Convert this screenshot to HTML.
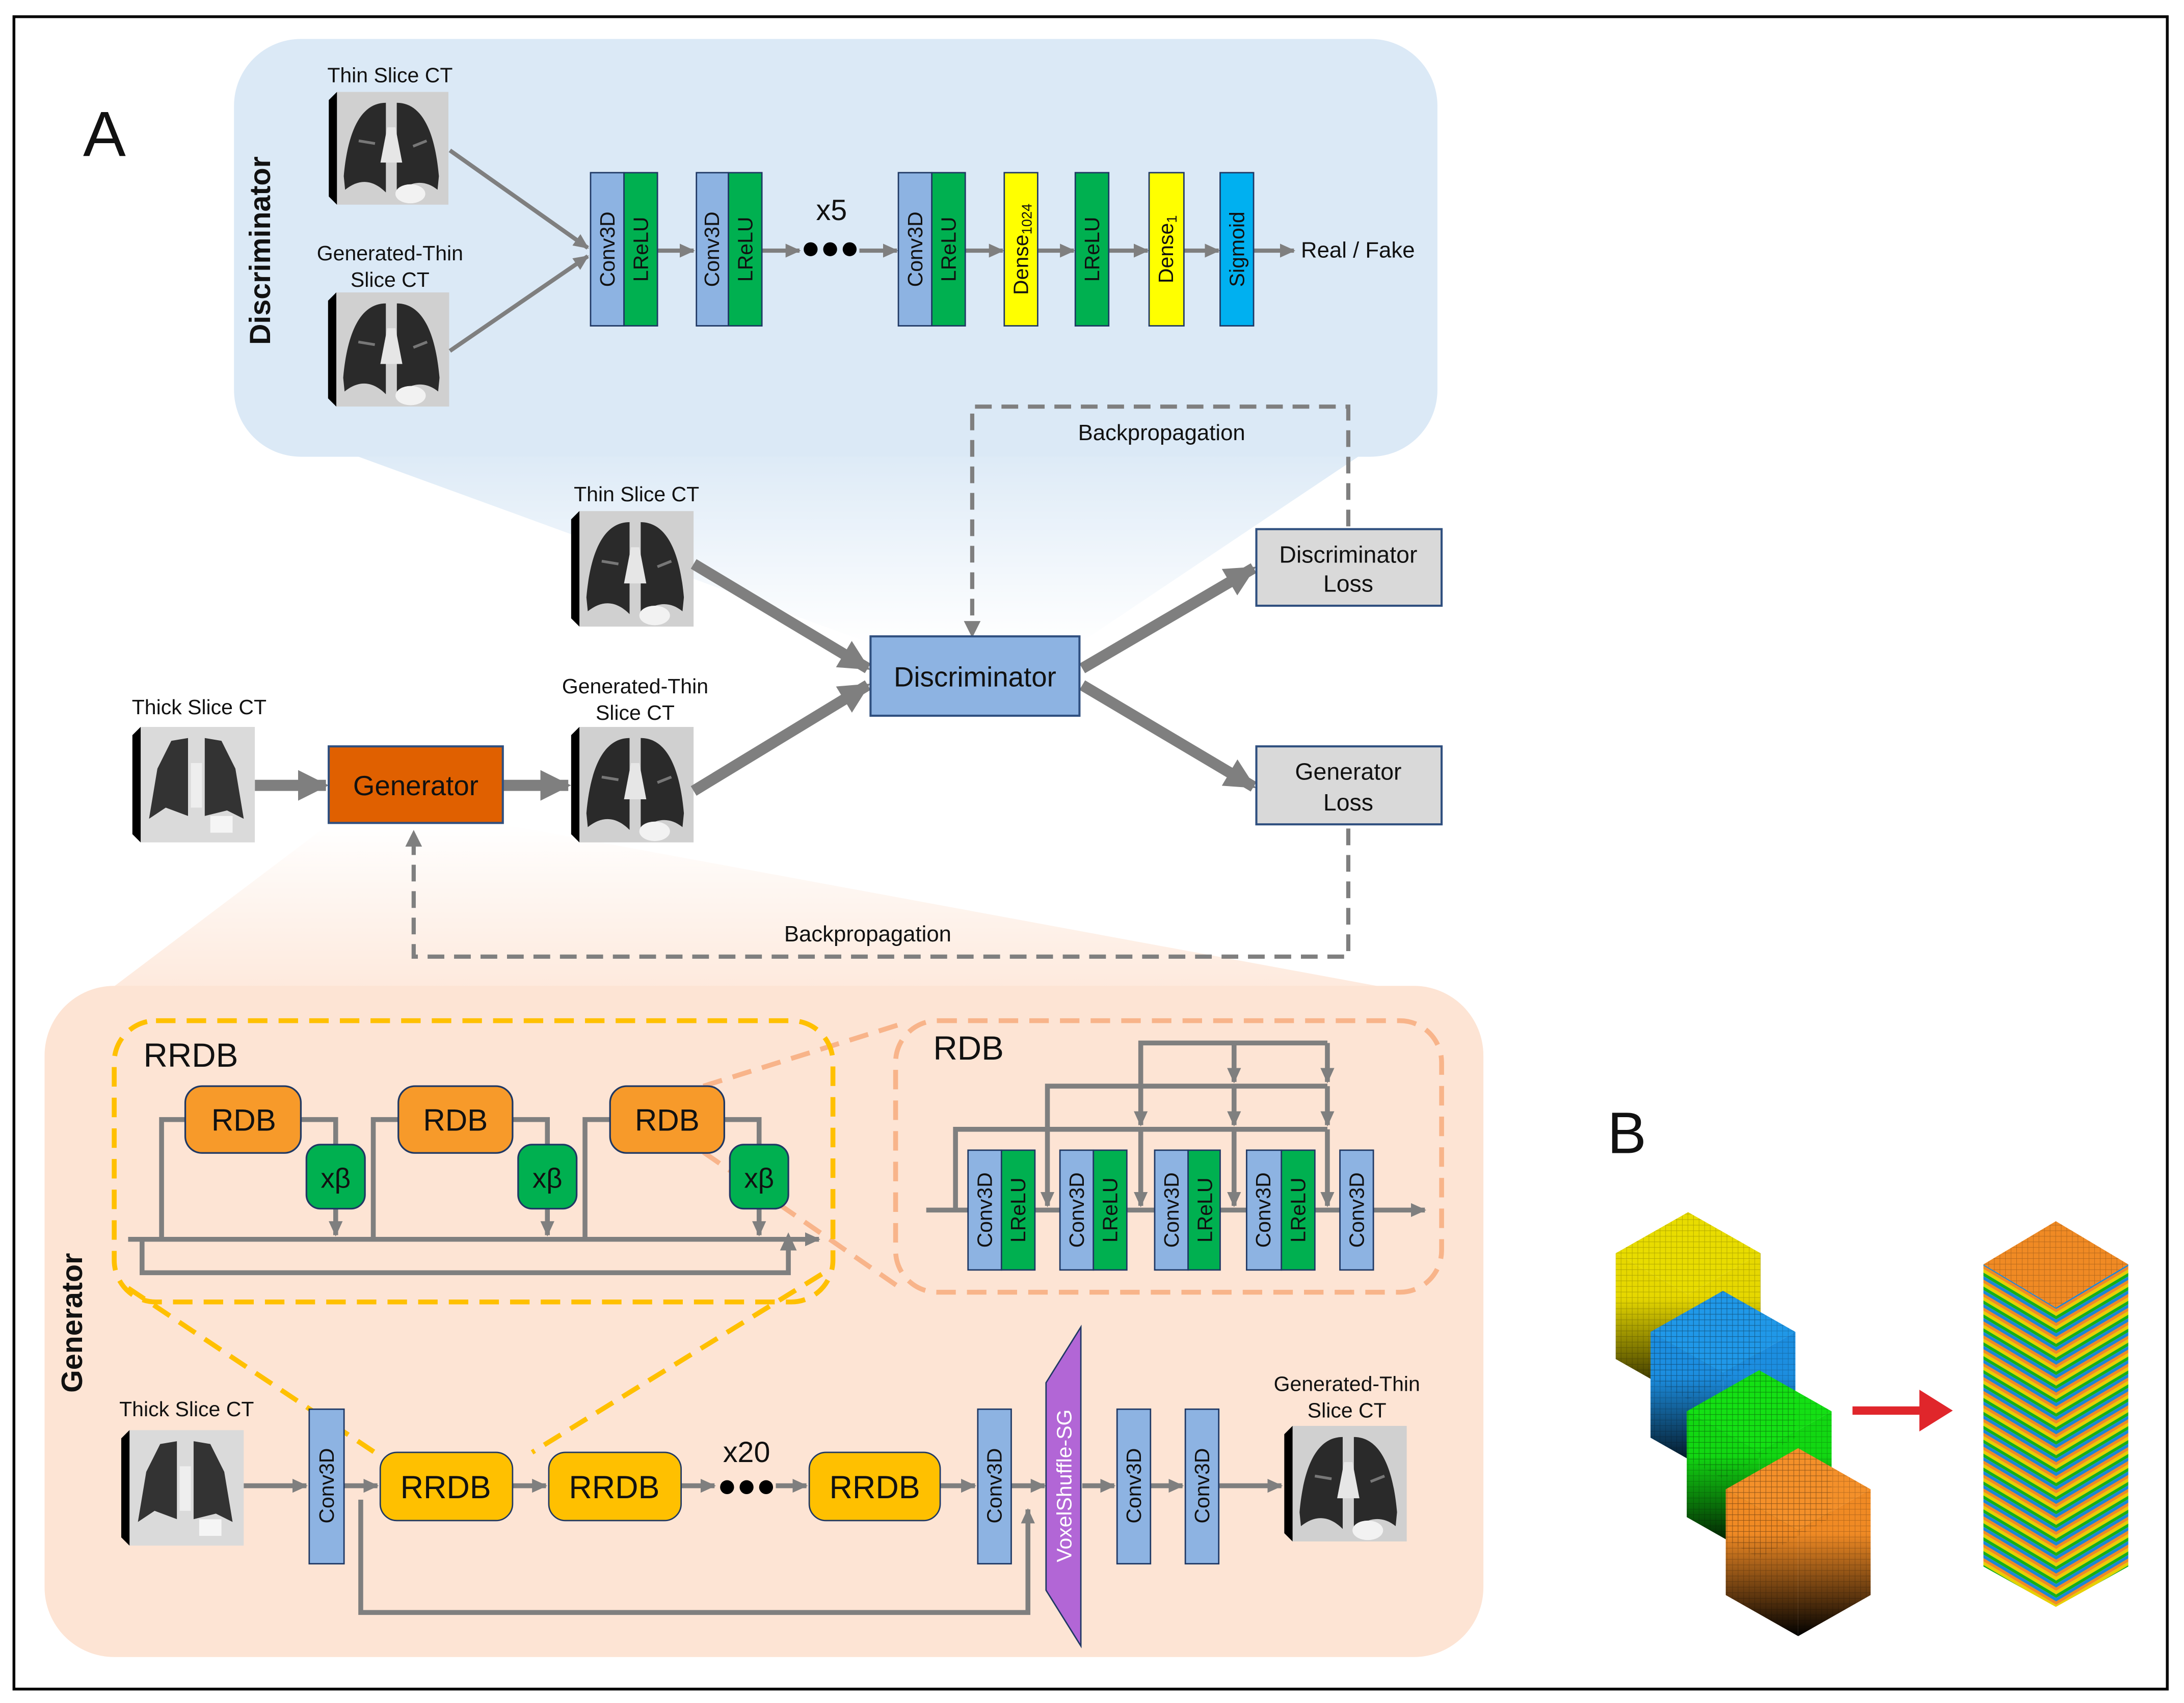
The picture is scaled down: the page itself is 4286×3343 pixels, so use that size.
<!DOCTYPE html>
<html><head><meta charset="utf-8"><style>
html,body{margin:0;padding:0;background:#fff;}
svg{display:block;}
text{font-family:"Liberation Sans",sans-serif;fill:#111;}
</style></head><body>
<svg width="4286" height="3343" viewBox="0 0 1568 1223" preserveAspectRatio="none" xmlns="http://www.w3.org/2000/svg">
<defs>
<marker id="ah" markerWidth="12" markerHeight="12" refX="10" refY="6" orient="auto" markerUnits="userSpaceOnUse"><path d="M0,1 L11,6 L0,11 Z" fill="#7f7f7f"/></marker>
<marker id="ahb" markerWidth="24" markerHeight="24" refX="20" refY="12" orient="auto" markerUnits="userSpaceOnUse"><path d="M0,1 L22,12 L0,23 Z" fill="#7f7f7f"/></marker>
<linearGradient id="bf" x1="0" y1="0" x2="0" y2="1"><stop offset="0" stop-color="#dbe9f6"/><stop offset="1" stop-color="#ffffff"/></linearGradient>
<linearGradient id="of" x1="0" y1="0" x2="0" y2="1"><stop offset="0" stop-color="#ffffff"/><stop offset="1" stop-color="#fde4d4"/></linearGradient>
<symbol id="ct" viewBox="0 0 88 83">
<rect x="6" y="0" width="82" height="83" fill="#d0d0d0"/>
<path d="M42,8 C24,8 14,28 11,62 L12,72 C22,64 32,64 42,74 Z" fill="#2a2a2a"/>
<path d="M50,8 C68,8 78,28 81,62 L80,72 C70,64 60,66 50,74 Z" fill="#2a2a2a"/>
<path d="M43,26 L49,26 L54,52 L38,52 Z" fill="#e6e6e6"/>
<path d="M22,36 L34,38 M62,40 L72,36" stroke="#777" stroke-width="2"/>
<ellipse cx="60" cy="75" rx="11" ry="7" fill="#f2f2f2"/>
<polygon points="0,6 6,0 6,83 0,77" fill="#000"/>
</symbol>
<symbol id="ctk" viewBox="0 0 88 83">
<rect x="6" y="0" width="82" height="83" fill="#dadada"/>
<path d="M40,8 L28,10 L18,30 L12,66 L24,58 L40,64 Z" fill="#333"/>
<path d="M52,8 L64,10 L74,30 L80,66 L68,60 L52,64 Z" fill="#333"/>
<rect x="42" y="26" width="8" height="32" fill="#eee"/>
<rect x="56" y="64" width="16" height="12" fill="#f5f5f5"/>
<polygon points="0,6 6,0 6,83 0,77" fill="#000"/>
</symbol>
<pattern id="grid" width="4" height="4" patternUnits="userSpaceOnUse"><path d="M4,0 V4 M0,4 H4" stroke="#000" stroke-opacity="0.25" stroke-width="0.6" fill="none"/></pattern>
<pattern id="stL" width="10" height="10" patternUnits="userSpaceOnUse" patternTransform="skewY(30.8)"><rect width="10" height="2.5" y="0" fill="#f08a24"/><rect width="10" height="2.5" y="2.5" fill="#e8d000"/><rect width="10" height="2.5" y="5" fill="#16b016"/><rect width="10" height="2.5" y="7.5" fill="#1a86d8"/></pattern>
<pattern id="stR" width="10" height="10" patternUnits="userSpaceOnUse" patternTransform="skewY(-30.8)"><rect width="10" height="2.5" y="0" fill="#f08a24"/><rect width="10" height="2.5" y="2.5" fill="#e8d000"/><rect width="10" height="2.5" y="5" fill="#16b016"/><rect width="10" height="2.5" y="7.5" fill="#1a86d8"/></pattern>
<linearGradient id="gy" x1="0" y1="0" x2="0" y2="1"><stop offset="0.3" stop-color="#e6d800"/><stop offset="1" stop-color="#1a1800"/></linearGradient>
<linearGradient id="gb" x1="0" y1="0" x2="0" y2="1"><stop offset="0.3" stop-color="#1c8ee0"/><stop offset="1" stop-color="#000"/></linearGradient>
<linearGradient id="gg" x1="0" y1="0" x2="0" y2="1"><stop offset="0.3" stop-color="#12d812"/><stop offset="1" stop-color="#000"/></linearGradient>
<linearGradient id="go" x1="0" y1="0" x2="0" y2="1"><stop offset="0.3" stop-color="#f08a24"/><stop offset="1" stop-color="#000"/></linearGradient>
</defs>

<rect x="0" y="0" width="1568" height="1223" fill="#fff"/>
<rect x="10" y="12" width="1546" height="1201" fill="none" stroke="#000" stroke-width="2"/>

<!-- panels -->
<polygon points="230,318 625,462 775,462 990,318" fill="url(#bf)"/>
<rect x="168" y="28" width="864" height="300" rx="48" fill="#dbe9f6"/>
<polygon points="236,592 361,592 1010,712 40,740" fill="url(#of)"/>
<rect x="32" y="708" width="1033" height="482" rx="50" fill="#fde4d4"/>

<text x="75" y="112" font-size="46" text-anchor="middle">A</text>
<text x="1168" y="828" font-size="42" text-anchor="middle">B</text>

<!-- Discriminator detail -->
<text transform="rotate(-90 187 180)" x="187" y="180" font-size="21" font-weight="bold" text-anchor="middle" dominant-baseline="central">Discriminator</text>
<text x="280" y="59" font-size="15" text-anchor="middle">Thin Slice CT</text>
<use href="#ct" x="235" y="66" width="88" height="81"/>
<text x="280" y="187" font-size="15" text-anchor="middle">Generated-Thin</text>
<text x="280" y="206" font-size="15" text-anchor="middle">Slice CT</text>
<use href="#ct" x="235" y="210" width="88" height="82"/>
<g stroke="#7f7f7f" stroke-width="3" fill="none">
<line x1="323" y1="108" x2="422" y2="178" marker-end="url(#ah)"/>
<line x1="323" y1="252" x2="422" y2="184" marker-end="url(#ah)"/>
<line x1="472" y1="180" x2="498" y2="180" marker-end="url(#ah)"/>
<line x1="547" y1="180" x2="574" y2="180" marker-end="url(#ah)"/>
<line x1="617" y1="180" x2="644" y2="180" marker-end="url(#ah)"/>
<line x1="693" y1="180" x2="720" y2="180" marker-end="url(#ah)"/>
<line x1="745" y1="180" x2="771" y2="180" marker-end="url(#ah)"/>
<line x1="796" y1="180" x2="824" y2="180" marker-end="url(#ah)"/>
<line x1="850" y1="180" x2="875" y2="180" marker-end="url(#ah)"/>
<line x1="900" y1="180" x2="929" y2="180" marker-end="url(#ah)"/>
</g>
<g stroke="#1f3864" stroke-width="1">
<rect x="424" y="124" width="24" height="110" fill="#8db3e2"/><rect x="448" y="124" width="24" height="110" fill="#00b050"/>
<rect x="500" y="124" width="23" height="110" fill="#8db3e2"/><rect x="523" y="124" width="24" height="110" fill="#00b050"/>
<rect x="645" y="124" width="24" height="110" fill="#8db3e2"/><rect x="669" y="124" width="24" height="110" fill="#00b050"/>
<rect x="721" y="124" width="24" height="110" fill="#ffff00"/>
<rect x="772" y="124" width="24" height="110" fill="#00b050"/>
<rect x="825" y="124" width="25" height="110" fill="#ffff00"/>
<rect x="876" y="124" width="24" height="110" fill="#00b0f0"/>
</g>
<g font-size="15" text-anchor="middle" dominant-baseline="central">
<text transform="rotate(-90 436 179)" x="436" y="179">Conv3D</text>
<text transform="rotate(-90 460 179)" x="460" y="179">LReLU</text>
<text transform="rotate(-90 511 179)" x="511" y="179">Conv3D</text>
<text transform="rotate(-90 535 179)" x="535" y="179">LReLU</text>
<text transform="rotate(-90 657 179)" x="657" y="179">Conv3D</text>
<text transform="rotate(-90 681 179)" x="681" y="179">LReLU</text>
<text transform="rotate(-90 733 179)" x="733" y="179">Dense<tspan font-size="10" dy="4">1024</tspan></text>
<text transform="rotate(-90 784 179)" x="784" y="179">LReLU</text>
<text transform="rotate(-90 837 179)" x="837" y="179">Dense<tspan font-size="10" dy="4">1</tspan></text>
<text transform="rotate(-90 888 179)" x="888" y="179">Sigmoid</text>
</g>
<text x="597" y="158" font-size="21" text-anchor="middle">x5</text>
<circle cx="582" cy="179" r="5" fill="#000"/><circle cx="596" cy="179" r="5" fill="#000"/><circle cx="610" cy="179" r="5" fill="#000"/>
<text x="934" y="185" font-size="16">Real / Fake</text>

<!-- main GAN flow -->
<g stroke="#7f7f7f" stroke-width="3" fill="none" stroke-dasharray="12,7">
<path d="M968,378 V292 H698 V448"/>
<path d="M968,595 V687 H297 V606"/>
</g>
<path d="M692,446 L698,458 L704,446 Z" fill="#7f7f7f"/>
<path d="M291,608 L297,596 L303,608 Z" fill="#7f7f7f"/>
<text x="834" y="316" font-size="16" text-anchor="middle">Backpropagation</text>
<text x="623" y="676" font-size="16" text-anchor="middle">Backpropagation</text>

<text x="457" y="360" font-size="15" text-anchor="middle">Thin Slice CT</text>
<use href="#ct" x="410" y="367" width="88" height="83"/>
<text x="143" y="513" font-size="15" text-anchor="middle">Thick Slice CT</text>
<use href="#ctk" x="95" y="522" width="88" height="83"/>
<text x="456" y="498" font-size="15" text-anchor="middle">Generated-Thin</text>
<text x="456" y="517" font-size="15" text-anchor="middle">Slice CT</text>
<use href="#ct" x="410" y="522" width="88" height="83"/>

<g stroke="#7f7f7f" stroke-width="8" fill="none">
<line x1="183" y1="564" x2="234" y2="564" marker-end="url(#ahb)"/>
<line x1="361" y1="564" x2="408" y2="564" marker-end="url(#ahb)"/>
<line x1="498" y1="405" x2="623" y2="480" marker-end="url(#ahb)"/>
<line x1="498" y1="568" x2="623" y2="492" marker-end="url(#ahb)"/>
<line x1="777" y1="480" x2="900" y2="408" marker-end="url(#ahb)"/>
<line x1="777" y1="492" x2="900" y2="565" marker-end="url(#ahb)"/>
</g>
<rect x="236" y="536" width="125" height="55" fill="#e06000" stroke="#2f4f7f" stroke-width="1.5"/>
<text x="298.5" y="571" font-size="20" text-anchor="middle">Generator</text>
<rect x="625" y="457" width="150" height="57" fill="#8db3e2" stroke="#2f4f7f" stroke-width="1.5"/>
<text x="700" y="493" font-size="20" text-anchor="middle">Discriminator</text>
<rect x="902" y="380" width="133" height="55" fill="#d9d9d9" stroke="#2f4f7f" stroke-width="1.5"/>
<text x="968" y="404" font-size="17" text-anchor="middle">Discriminator</text>
<text x="968" y="425" font-size="17" text-anchor="middle">Loss</text>
<rect x="902" y="536" width="133" height="56" fill="#d9d9d9" stroke="#2f4f7f" stroke-width="1.5"/>
<text x="968" y="560" font-size="17" text-anchor="middle">Generator</text>
<text x="968" y="582" font-size="17" text-anchor="middle">Loss</text>

<!-- Generator detail -->
<text transform="rotate(-90 52 950)" x="52" y="950" font-size="21" font-weight="bold" text-anchor="middle" dominant-baseline="central">Generator</text>

<g stroke="#f8b48a" stroke-width="3.5" fill="none" stroke-dasharray="14,8">
<line x1="505" y1="780" x2="645" y2="736"/>
<line x1="487" y1="815" x2="645" y2="924"/>
<rect x="643" y="733" width="392" height="195" rx="30"/>
</g>
<g stroke="#ffc000" stroke-width="3.5" fill="none" stroke-dasharray="14,8">
<rect x="82" y="733" width="516" height="202" rx="30"/>
<line x1="92" y1="925" x2="272" y2="1045"/>
<line x1="590" y1="915" x2="382" y2="1043"/>
</g>
<text x="103" y="766" font-size="24">RRDB</text>
<text x="670" y="761" font-size="24">RDB</text>

<g stroke="#7f7f7f" stroke-width="3.5" fill="none">
<line x1="92" y1="890" x2="588" y2="890" marker-end="url(#ah)"/>
<path d="M102,890 V914 H566 V897" />
<path d="M116,890 V804 H140"/><path d="M210,804 H241 V826"/><line x1="241" y1="866" x2="241" y2="887" marker-end="url(#ah)"/>
<path d="M268,890 V804 H292"/><path d="M362,804 H393 V826"/><line x1="393" y1="866" x2="393" y2="887" marker-end="url(#ah)"/>
<path d="M420,890 V804 H444"/><path d="M514,804 H545 V826"/><line x1="545" y1="866" x2="545" y2="887" marker-end="url(#ah)"/>
</g>
<path d="M560,898 L566,885 L572,898 Z" fill="#7f7f7f"/>
<g stroke="#1f3864" stroke-width="1.2">
<rect x="133" y="780" width="83" height="48" rx="12" fill="#f79a2a"/>
<rect x="286" y="780" width="82" height="48" rx="12" fill="#f79a2a"/>
<rect x="438" y="780" width="82" height="48" rx="12" fill="#f79a2a"/>
<rect x="220" y="822" width="42" height="46" rx="10" fill="#00b050"/>
<rect x="372" y="822" width="42" height="46" rx="10" fill="#00b050"/>
<rect x="524" y="822" width="42" height="46" rx="10" fill="#00b050"/>
</g>
<g font-size="22" text-anchor="middle">
<text x="175" y="812">RDB</text><text x="327" y="812">RDB</text><text x="479" y="812">RDB</text>
<text x="241" y="853" font-size="20">xβ</text><text x="393" y="853" font-size="20">xβ</text><text x="545" y="853" font-size="20">xβ</text>
</g>

<g stroke="#7f7f7f" stroke-width="3.5" fill="none">
<line x1="665" y1="869" x2="1023" y2="869" marker-end="url(#ah)"/>
<path d="M686,869 V811 H953"/>
<path d="M752,811 V780 H953"/>
<path d="M819,780 V749 H953"/>
<line x1="752" y1="811" x2="752" y2="866" marker-end="url(#ah)"/>
<line x1="819" y1="811" x2="819" y2="866" marker-end="url(#ah)"/>
<line x1="886" y1="811" x2="886" y2="866" marker-end="url(#ah)"/>
<line x1="953" y1="811" x2="953" y2="866" marker-end="url(#ah)"/>
<line x1="819" y1="780" x2="819" y2="808" marker-end="url(#ah)"/>
<line x1="886" y1="780" x2="886" y2="808" marker-end="url(#ah)"/>
<line x1="953" y1="780" x2="953" y2="808" marker-end="url(#ah)"/>
<line x1="886" y1="749" x2="886" y2="777" marker-end="url(#ah)"/>
<line x1="953" y1="749" x2="953" y2="777" marker-end="url(#ah)"/>
</g>
<g stroke="#1f3864" stroke-width="1">
<rect x="695" y="826" width="24" height="86" fill="#8db3e2"/><rect x="719" y="826" width="24" height="86" fill="#00b050"/>
<rect x="761" y="826" width="24" height="86" fill="#8db3e2"/><rect x="785" y="826" width="24" height="86" fill="#00b050"/>
<rect x="829" y="826" width="24" height="86" fill="#8db3e2"/><rect x="853" y="826" width="23" height="86" fill="#00b050"/>
<rect x="895" y="826" width="25" height="86" fill="#8db3e2"/><rect x="920" y="826" width="24" height="86" fill="#00b050"/>
<rect x="962" y="826" width="24" height="86" fill="#8db3e2"/>
</g>
<g font-size="15" text-anchor="middle" dominant-baseline="central">
<text transform="rotate(-90 707 869)" x="707" y="869">Conv3D</text>
<text transform="rotate(-90 731 869)" x="731" y="869">LReLU</text>
<text transform="rotate(-90 773 869)" x="773" y="869">Conv3D</text>
<text transform="rotate(-90 797 869)" x="797" y="869">LReLU</text>
<text transform="rotate(-90 841 869)" x="841" y="869">Conv3D</text>
<text transform="rotate(-90 865 869)" x="865" y="869">LReLU</text>
<text transform="rotate(-90 907 869)" x="907" y="869">Conv3D</text>
<text transform="rotate(-90 932 869)" x="932" y="869">LReLU</text>
<text transform="rotate(-90 974 869)" x="974" y="869">Conv3D</text>
</g>

<text x="134" y="1017" font-size="15" text-anchor="middle">Thick Slice CT</text>
<use href="#ctk" x="87" y="1027" width="88" height="83"/>
<text x="967" y="999" font-size="15" text-anchor="middle">Generated-Thin</text>
<text x="967" y="1018" font-size="15" text-anchor="middle">Slice CT</text>
<use href="#ct" x="922" y="1024" width="88" height="83"/>
<g stroke="#7f7f7f" stroke-width="3.5" fill="none">
<line x1="175" y1="1067" x2="220" y2="1067" marker-end="url(#ah)"/>
<line x1="247" y1="1067" x2="271" y2="1067" marker-end="url(#ah)"/>
<line x1="368" y1="1067" x2="392" y2="1067" marker-end="url(#ah)"/>
<line x1="489" y1="1067" x2="513" y2="1067" marker-end="url(#ah)"/>
<line x1="557" y1="1067" x2="579" y2="1067" marker-end="url(#ah)"/>
<line x1="675" y1="1067" x2="700" y2="1067" marker-end="url(#ah)"/>
<line x1="726" y1="1067" x2="750" y2="1067" marker-end="url(#ah)"/>
<line x1="777" y1="1067" x2="800" y2="1067" marker-end="url(#ah)"/>
<line x1="826" y1="1067" x2="849" y2="1067" marker-end="url(#ah)"/>
<line x1="875" y1="1067" x2="920" y2="1067" marker-end="url(#ah)"/>
<path d="M259,1077 V1158 H738 V1084" marker-end="url(#ah)"/>
</g>
<g stroke="#1f3864" stroke-width="1">
<rect x="222" y="1012" width="25" height="111" fill="#8db3e2"/>
<rect x="702" y="1012" width="24" height="111" fill="#8db3e2"/>
<rect x="802" y="1012" width="24" height="111" fill="#8db3e2"/>
<rect x="851" y="1012" width="24" height="111" fill="#8db3e2"/>
<polygon points="751,993 776,953 776,1182 751,1142" fill="#b266d6"/>
<rect x="273" y="1043" width="95" height="49" rx="12" fill="#ffc000"/>
<rect x="394" y="1043" width="95" height="49" rx="12" fill="#ffc000"/>
<rect x="581" y="1043" width="94" height="49" rx="12" fill="#ffc000"/>
</g>
<g font-size="15" text-anchor="middle" dominant-baseline="central">
<text transform="rotate(-90 234.5 1067)" x="234.5" y="1067">Conv3D</text>
<text transform="rotate(-90 714 1067)" x="714" y="1067">Conv3D</text>
<text transform="rotate(-90 814 1067)" x="814" y="1067">Conv3D</text>
<text transform="rotate(-90 863 1067)" x="863" y="1067">Conv3D</text>
<text transform="rotate(-90 764 1067)" x="764" y="1067" style="fill:#fff">VoxelShuffle-SG</text>
</g>
<g font-size="23" text-anchor="middle">
<text x="320" y="1076">RRDB</text><text x="441" y="1076">RRDB</text><text x="628" y="1076">RRDB</text>
</g>
<text x="536" y="1050" font-size="21" text-anchor="middle">x20</text>
<circle cx="522" cy="1068" r="5" fill="#000"/><circle cx="536" cy="1068" r="5" fill="#000"/><circle cx="550" cy="1068" r="5" fill="#000"/>

<!-- B: cubes -->
<g>
<polygon points="1212,870.5 1264,900 1212,929.5 1160,900" fill="#e8dc00"/>
<polygon points="1160,900 1212,929.5 1212,1005.5 1160,976" fill="url(#gy)"/>
<polygon points="1212,929.5 1264,900 1264,976 1212,1005.5" fill="url(#gy)"/>
<polygon points="1237,927 1289,956.5 1237,986 1185,956.5" fill="#2098e8"/>
<polygon points="1185,956.5 1237,986 1237,1062 1185,1032.5" fill="url(#gb)"/>
<polygon points="1237,986 1289,956.5 1289,1032.5 1237,1062" fill="url(#gb)"/>
<polygon points="1263,984 1315,1013.5 1263,1043 1211,1013.5" fill="#14e014"/>
<polygon points="1211,1013.5 1263,1043 1263,1119 1211,1089.5" fill="url(#gg)"/>
<polygon points="1263,1043 1315,1013.5 1315,1089.5 1263,1119" fill="url(#gg)"/>
<polygon points="1291,1040 1343,1069.5 1291,1099 1239,1069.5" fill="#f4902a"/>
<polygon points="1239,1069.5 1291,1099 1291,1175 1239,1145.5" fill="url(#go)"/>
<polygon points="1291,1099 1343,1069.5 1343,1145.5 1291,1175" fill="url(#go)"/>
<g fill="url(#grid)">
<polygon points="1160,900 1212,870.5 1264,900 1264,976 1212,1005 1160,976"/>
<polygon points="1185,956.5 1237,927 1289,956.5 1289,1032.5 1237,1062 1185,1032.5"/>
<polygon points="1211,1013.5 1263,984 1315,1013.5 1315,1089.5 1263,1119 1211,1089.5"/>
<polygon points="1239,1069.5 1291,1040 1343,1069.5 1343,1145.5 1291,1175 1239,1145.5"/>
</g>
</g>
<rect x="1330" y="1010" width="50" height="6" fill="#e0262b"/>
<polygon points="1378,998 1402,1013 1378,1028" fill="#e0262b"/>
<polygon points="1424,908 1476,939 1476,1154 1424,1125" fill="url(#stL)"/>
<polygon points="1476,939 1528,908 1528,1125 1476,1154" fill="url(#stR)"/>
<polygon points="1476,877 1528,908 1476,939 1424,908" fill="#f08a24"/>
<polygon points="1476,877 1528,908 1476,939 1424,908" fill="url(#grid)"/>
</svg>
</body></html>
